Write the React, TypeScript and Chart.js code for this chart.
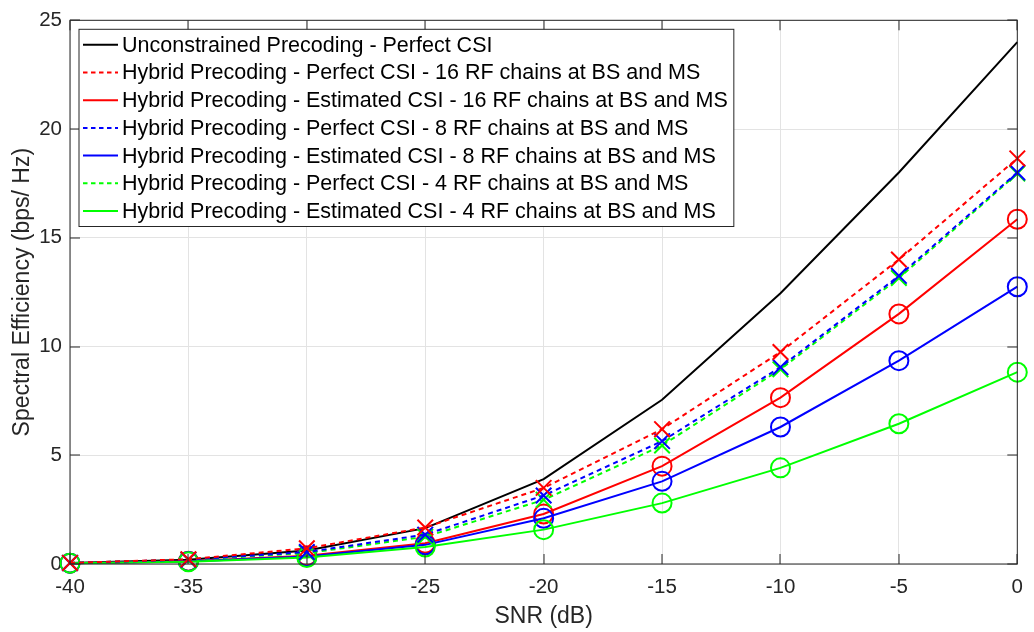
import React, { useEffect, useRef } from "react";
import { Chart, registerables } from "chart.js";

Chart.register(...registerables);

// SNR sweep (dB)
const snrDb = [-40, -35, -30, -25, -20, -15, -10, -5, 0];

// Spectral efficiency (bps/Hz)
const unconstrainedPerfect = [0.05, 0.2, 0.62, 1.65, 3.9, 7.55, 12.45, 18.0, 24.0];
const hybrid16Perfect = [0.05, 0.22, 0.72, 1.68, 3.5, 6.2, 9.75, 14.0, 18.65];
const hybrid16Estimated = [0.04, 0.13, 0.38, 0.95, 2.3, 4.5, 7.65, 11.5, 15.85];
const hybrid8Perfect = [0.05, 0.2, 0.55, 1.35, 3.15, 5.65, 9.05, 13.25, 18.0];
const hybrid8Estimated = [0.04, 0.12, 0.35, 0.88, 2.1, 3.8, 6.3, 9.35, 12.75];
const hybrid4Perfect = [0.05, 0.19, 0.5, 1.25, 2.95, 5.45, 8.95, 13.15, 17.95];
const hybrid4Estimated = [0.04, 0.1, 0.3, 0.78, 1.58, 2.8, 4.42, 6.45, 8.82];

const seriesLabels = [
  "Unconstrained Precoding - Perfect CSI",
  "Hybrid Precoding - Perfect CSI - 16 RF chains at BS and MS",
  "Hybrid Precoding - Estimated CSI - 16 RF chains at BS and MS",
  "Hybrid Precoding - Perfect CSI - 8 RF chains at BS and MS",
  "Hybrid Precoding - Estimated CSI - 8 RF chains at BS and MS",
  "Hybrid Precoding - Perfect CSI - 4 RF chains at BS and MS",
  "Hybrid Precoding - Estimated CSI - 4 RF chains at BS and MS",
];

const xTicks = [-40, -35, -30, -25, -20, -15, -10, -5, 0];
const yTicks = [0, 5, 10, 15, 20, 25];

const FONT = "'Liberation Sans', Arial, Helvetica, sans-serif";
const AXIS_COLOR = "#262626";
const DASH = [5, 4];

type SeriesStyle = {
  values: number[];
  color: string;
  dashed: boolean;
  marker: false | "crossRot" | "circle";
  order: number; // lower value is painted on top
};

const seriesStyles: SeriesStyle[] = [
  { values: unconstrainedPerfect, color: "#000000", dashed: false, marker: false, order: 6 },
  { values: hybrid16Perfect, color: "#ff0000", dashed: true, marker: "crossRot", order: 0 },
  { values: hybrid16Estimated, color: "#ff0000", dashed: false, marker: "circle", order: 5 },
  { values: hybrid8Perfect, color: "#0000ff", dashed: true, marker: "crossRot", order: 1 },
  { values: hybrid8Estimated, color: "#0000ff", dashed: false, marker: "circle", order: 4 },
  { values: hybrid4Perfect, color: "#00ff00", dashed: true, marker: "crossRot", order: 2 },
  { values: hybrid4Estimated, color: "#00ff00", dashed: false, marker: "circle", order: 3 },
];

// Box around the axes with inward tick marks on all four sides
const axesFrame = {
  id: "axesFrame",
  afterDatasetsDraw(chart: any) {
    const { ctx, chartArea, scales } = chart;
    const { left, right, top, bottom } = chartArea;
    const tick = 10;
    ctx.save();
    ctx.strokeStyle = AXIS_COLOR;
    ctx.lineWidth = 1;
    ctx.setLineDash([]);
    ctx.strokeRect(left, top, right - left, bottom - top);
    ctx.beginPath();
    xTicks.forEach((v) => {
      const px = Math.round(scales.x.getPixelForValue(v));
      ctx.moveTo(px, bottom);
      ctx.lineTo(px, bottom - tick);
      ctx.moveTo(px, top);
      ctx.lineTo(px, top + tick);
    });
    yTicks.forEach((v) => {
      const py = Math.round(scales.y.getPixelForValue(v));
      ctx.moveTo(left, py);
      ctx.lineTo(left + tick, py);
      ctx.moveTo(right, py);
      ctx.lineTo(right - tick, py);
    });
    ctx.stroke();
    ctx.restore();
  },
};

// Boxed legend in the upper-left corner of the plot area
const insideLegend = {
  id: "insideLegend",
  afterDraw(chart: any) {
    const { ctx, chartArea } = chart;
    const boxX = chartArea.left + 9;
    const boxY = chartArea.top + 9;
    const rowH = 27.7;
    const padTop = 15.5;
    const fontSize = 21.5;
    ctx.save();
    ctx.font = `${fontSize}px ${FONT}`;
    const textWidths = seriesLabels.map((s) => ctx.measureText(s).width);
    const textX = boxX + 43;
    const boxW = textX - boxX + Math.max(...textWidths) + 6;
    const boxH = padTop * 2 + rowH * (seriesLabels.length - 1);
    ctx.fillStyle = "#ffffff";
    ctx.fillRect(boxX, boxY, boxW, boxH);
    ctx.strokeStyle = AXIS_COLOR;
    ctx.lineWidth = 1;
    ctx.strokeRect(boxX, boxY, boxW, boxH);
    seriesLabels.forEach((label, i) => {
      const st = seriesStyles[i];
      const cy = boxY + padTop + i * rowH;
      ctx.beginPath();
      ctx.strokeStyle = st.color;
      ctx.lineWidth = 2;
      ctx.setLineDash(st.dashed ? [4.5, 3.5] : []);
      ctx.moveTo(boxX + 4, cy);
      ctx.lineTo(boxX + 39, cy);
      ctx.stroke();
      ctx.setLineDash([]);
      ctx.fillStyle = "#000000";
      ctx.textBaseline = "middle";
      ctx.textAlign = "left";
      ctx.fillText(label, textX, cy + 1);
    });
    ctx.restore();
  },
};

export default function App() {
  const canvasRef = useRef<HTMLCanvasElement | null>(null);

  useEffect(() => {
    document.body.style.margin = "0";
    const canvas = canvasRef.current;
    if (!canvas) return;

    const datasets = seriesStyles.map((st, i) => ({
      label: seriesLabels[i],
      data: snrDb.map((x, k) => ({ x, y: st.values[k] })),
      borderColor: st.color,
      backgroundColor: st.color,
      borderWidth: 2,
      borderDash: st.dashed ? DASH : [],
      fill: false,
      tension: 0,
      order: st.order,
      clip: false as const,
      pointStyle: st.marker || "circle",
      pointRadius: st.marker === "crossRot" ? 11 : st.marker === "circle" ? 9.5 : 0,
      pointBorderColor: st.color,
      pointBackgroundColor: "rgba(0,0,0,0)",
      pointBorderWidth: st.marker ? 2 : 0,
      pointHoverRadius: 0,
    }));

    const chart = new Chart(canvas, {
      type: "line",
      data: { datasets },
      options: {
        responsive: false,
        animation: false,
        events: [],
        layout: { padding: { left: 0, right: 7, top: 14, bottom: 0 } },
        plugins: {
          legend: { display: false },
          tooltip: { enabled: false },
        },
        scales: {
          x: {
            type: "linear",
            min: -40,
            max: 0,
            afterBuildTicks: (scale: any) => {
              scale.ticks = xTicks.map((v) => ({ value: v }));
            },
            afterFit: (scale: any) => {
              scale.height = 68;
            },
            grid: { color: "#e3e3e3", lineWidth: 1, drawTicks: false },
            border: { display: false },
            ticks: {
              color: AXIS_COLOR,
              padding: 11,
              maxRotation: 0,
              autoSkip: false,
              font: { family: FONT, size: 20.5 },
            },
            title: {
              display: true,
              text: "SNR (dB)",
              color: AXIS_COLOR,
              font: { family: FONT, size: 23 },
              padding: { top: 0, bottom: 2 },
            },
          },
          y: {
            type: "linear",
            min: 0,
            max: 25,
            afterBuildTicks: (scale: any) => {
              scale.ticks = yTicks.map((v) => ({ value: v }));
            },
            afterFit: (scale: any) => {
              scale.width = 70;
            },
            grid: { color: "#e3e3e3", lineWidth: 1, drawTicks: false },
            border: { display: false },
            ticks: {
              color: AXIS_COLOR,
              padding: 8,
              autoSkip: false,
              font: { family: FONT, size: 20.5 },
            },
            title: {
              display: true,
              text: "Spectral Efficiency (bps/ Hz)",
              color: AXIS_COLOR,
              font: { family: FONT, size: 23 },
              padding: { top: 9, bottom: 0 },
            },
          },
        },
      },
      plugins: [axesFrame, insideLegend],
    });

    return () => chart.destroy();
  }, []);

  return (
    <div style={{ width: 1034, height: 632, background: "#ffffff" }}>
      <canvas ref={canvasRef} width={1034} height={632} />
    </div>
  );
}
